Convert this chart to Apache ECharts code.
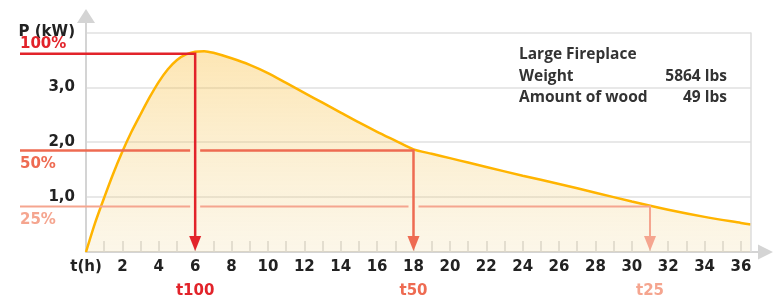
<!DOCTYPE html>
<html>
<head>
<meta charset="utf-8">
<script src="https://cdn.jsdelivr.net/npm/echarts@6/dist/echarts.min.js"></script>
<style>
html, body { margin: 0; padding: 0; background: #fff; }
#main { width: 774px; height: 300px; }
</style>
</head>
<body>
<div id="main"></div>
<script>
// burn curve
var hours = [0, 0.5, 1, 1.5, 2, 2.5, 3, 3.5, 4, 4.5, 5, 5.5, 6, 6.5, 7, 8, 9, 10, 11, 12, 13, 14, 15, 16, 17, 18, 19, 20, 21, 22, 24, 26, 28, 30, 32, 34, 36, 36.55];
var power = [0, 0.53, 0.99, 1.43, 1.83, 2.19, 2.51, 2.82, 3.10, 3.33, 3.50, 3.60, 3.65, 3.66, 3.63, 3.53, 3.41, 3.26, 3.08, 2.90, 2.72, 2.54, 2.36, 2.19, 2.03, 1.87, 1.79, 1.71, 1.63, 1.55, 1.39, 1.24, 1.08, 0.92, 0.77, 0.64, 0.53, 0.50];

var xTickValues = [1, 2, 3, 4, 5, 6, 7, 8, 9, 10, 11, 12, 13, 14, 15, 16, 17, 18, 19, 20, 21, 22, 23, 24, 25, 26, 27, 28, 29, 30, 31, 32, 33, 34, 35, 36];
var xLabelValues = [0, 2, 4, 6, 8, 10, 12, 14, 16, 18, 20, 22, 24, 26, 28, 30, 32, 34, 36];
var yLabelValues = [1, 2, 3, 4];

var levelNames = ['100%', '50%', '25%'];
var levelPower = [3.61, 1.85, 0.83];
var levelTimes = [6, 18, 31];
var levelTimeNames = ['t100', 't50', 't25'];

var infoTitle = 'Large Fireplace';
var infoNames = ['Weight', 'Amount of wood'];
var infoValues = ['5864 lbs', '49 lbs'];

var levelColors = ['#e2232a', '#ee6b52', '#f5a58f'];
var labelFont = 'bold 15px "DejaVu Sans"';
var infoFont = 'bold 15.5px "Open Sans"';

var chart = echarts.init(document.getElementById('main'));

var curve = hours.map(function (h, i) { return [h, power[i]]; });
var levels = levelTimes.map(function (t, i) { return [t, levelPower[i]]; });

function renderLevel(params, api) {
    var i = params.dataIndex;
    var color = levelColors[i];
    var lw = i === 2 ? 2 : 2.5;
    var end = api.coord([api.value(0), api.value(1)]);
    var base = api.coord([api.value(0), 0]);
    var x0 = api.coord([0, 0])[0] - 66;
    var y = end[1];
    var children = [];
    // horizontal line is broken where earlier drop lines cross it
    var from = x0;
    for (var j = 0; j < i; j++) {
        var cx = api.coord([levelTimes[j], 0])[0];
        children.push({
            type: 'line',
            shape: { x1: from, y1: y, x2: cx - 5, y2: y },
            style: { stroke: color, lineWidth: lw }
        });
        from = cx + 5;
    }
    children.push({
        type: 'polyline',
        shape: { points: [[from, y], [end[0], y], [end[0], base[1] - 14]] },
        style: { stroke: color, lineWidth: lw, fill: null, lineJoin: 'miter' }
    });
    children.push({
        type: 'polygon',
        shape: { points: [[end[0] - 6, base[1] - 16], [end[0] + 6, base[1] - 16], [end[0], base[1] - 1]] },
        style: { fill: color }
    });
    children.push({
        type: 'text',
        x: x0,
        y: y + (i === 0 ? -9.5 : 14),
        style: { text: levelNames[i], fill: color, font: labelFont, align: 'left', verticalAlign: 'middle' }
    });
    children.push({
        type: 'text',
        x: end[0],
        y: base[1] + 39.5,
        style: { text: levelTimeNames[i], fill: color, font: labelFont, align: 'center', verticalAlign: 'middle' }
    });
    return { type: 'group', children: children };
}

var option = {
    animation: false,
    grid: { left: 86, right: 23, top: 16, bottom: 48 },
    xAxis: {
        type: 'value',
        min: 0,
        max: 36.55,
        interval: 1,
        axisLine: {
            lineStyle: { color: '#d4d4d4', width: 2 },
            symbol: ['none', 'path://M7.5,0 L15,15 L8.5,15 L8.5,44 L6.5,44 L6.5,15 L0,15 Z'],
            symbolSize: [15, 44]
        },
        axisTick: {
            inside: true,
            length: 11,
            customValues: xTickValues,
            lineStyle: { color: '#d6d6d6', width: 1.5 }
        },
        axisLabel: {
            customValues: xLabelValues,
            margin: 8,
            color: '#222',
            fontFamily: 'DejaVu Sans',
            fontWeight: 'bold',
            fontSize: 15,
            formatter: function (v) { return v === 0 ? 't(h)' : String(v); }
        },
        splitLine: { show: false }
    },
    yAxis: {
        type: 'value',
        min: 0,
        max: 4.3,
        interval: 1,
        axisLine: {
            show: true,
            lineStyle: { color: '#d4d4d4', width: 2 },
            symbol: ['none', 'triangle'],
            symbolSize: [18, 14]
        },
        axisTick: { show: false },
        axisLabel: {
            customValues: yLabelValues,
            margin: 11,
            color: '#222',
            fontFamily: 'DejaVu Sans',
            fontWeight: 'bold',
            fontSize: 15,
            formatter: function (v) {
                return v === 4 ? 'P (kW)' : v.toFixed(1).replace('.', ',');
            }
        },
        splitLine: {
            show: true,
            showMinLine: false,
            showMaxLine: false,
            lineStyle: { color: '#e0e0e0', width: 1.5 }
        }
    },
    series: [{
        type: 'line',
        data: curve,
        smooth: 0.25,
        showSymbol: false,
        lineStyle: { color: '#ffb400', width: 2.5 },
        areaStyle: {
            color: new echarts.graphic.LinearGradient(0, 0, 0, 1, [
                { offset: 0, color: 'rgba(250,190,60,0.55)' },
                { offset: 1, color: 'rgba(240,215,150,0.3)' }
            ])
        },
        markLine: {
            silent: true,
            symbol: 'none',
            label: { show: false },
            lineStyle: { color: '#dcdcdc', width: 1.5, type: 'solid' },
            data: [[{ coord: [36.55, 0] }, { coord: [36.55, 4] }]]
        }
    }, {
        type: 'custom',
        z: 5,
        data: levels,
        encode: { x: 0, y: 1 },
        renderItem: renderLevel
    }],
    graphic: [{
        type: 'group',
        x: 505,
        y: 33,
        z: 10,
        children: [
            { type: 'rect', shape: { x: 0, y: 0, width: 244, height: 82 }, style: { fill: '#fff' } },
            { type: 'text', x: 14, y: 22, style: { text: infoTitle, font: infoFont, fill: '#333', verticalAlign: 'middle' } },
            { type: 'text', x: 14, y: 43.7, style: { text: infoNames[0], font: infoFont, fill: '#333', verticalAlign: 'middle' } },
            { type: 'text', x: 14, y: 65, style: { text: infoNames[1], font: infoFont, fill: '#333', verticalAlign: 'middle' } },
            { type: 'text', x: 222, y: 43.7, style: { text: infoValues[0], font: infoFont, fill: '#333', align: 'right', verticalAlign: 'middle' } },
            { type: 'text', x: 222, y: 65, style: { text: infoValues[1], font: infoFont, fill: '#333', align: 'right', verticalAlign: 'middle' } }
        ]
    }]
};

chart.setOption(option);
</script>
</body>
</html>
